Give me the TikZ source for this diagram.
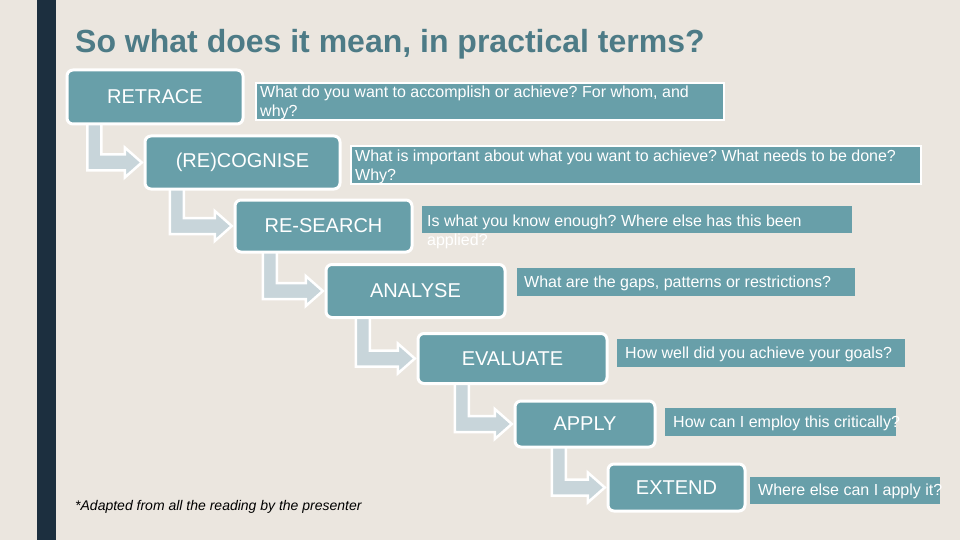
\documentclass[tikz,border=0pt]{standalone}
\usepackage{fontspec}
\setmainfont{Liberation Sans}
\usetikzlibrary{calc}
\definecolor{bgc}{HTML}{EBE6DF}
\definecolor{barc}{HTML}{1C2F3F}
\definecolor{teal}{HTML}{689FA9}
\definecolor{titlec}{HTML}{4D7B86}
\definecolor{arrowc}{HTML}{C8D5DA}
\frenchspacing
\tikzset{
  stepbox/.style={rectangle, rounded corners=6pt, fill=teal, draw=white, line width=3pt,
    text=white, font=\fontsize{20}{23}\selectfont, inner sep=0pt},
  posbox/.style={rectangle, inner sep=0pt},
  qbox/.style={rectangle, fill=teal, inner sep=0pt, anchor=north west},
  qborder/.style={qbox, draw=white, line width=2pt},
  qtext/.style={text=white, font=\fontsize{16}{19}\selectfont, inner sep=0pt, align=left, anchor=north west},
  bent/.style={fill=arrowc, draw=white, line width=2.5pt, line join=miter},
}
\newcommand\bentarrow[3]{%
  \draw[bent] let \p1=(#1.south west), \p2=(#2.west) in
   (\x1+#3-7pt,\y1+2pt) -- (\x1+#3-7pt,\y2-8pt) -- (\x2-20pt,\y2-8pt) -- (\x2-20pt,\y2-15pt)
   -- (\x2-3pt,\y2) -- (\x2-20pt,\y2+15pt) -- (\x2-20pt,\y2+8pt) -- (\x1+#3+7pt,\y2+8pt)
   -- (\x1+#3+7pt,\y1+2pt) -- cycle;}
\begin{document}
\begin{tikzpicture}[x=1pt,y=-1pt]
\fill[bgc] (0,0) rectangle (960,540);
\useasboundingbox (0,0) rectangle (960,540);
\fill[barc] (37,0) rectangle (56,540);
\node[anchor=base west, inner sep=0pt, text=titlec, font=\fontsize{32}{36}\selectfont\bfseries] (title) at (75,53) {So what does it mean, in practical terms?};

% positions of the step boxes
\path (155,97) node[posbox, minimum width=176pt, minimum height=54pt] (b1) {}
      (242.5,162.5) node[posbox, minimum width=195pt, minimum height=53pt] (b2) {}
      (323.5,226) node[posbox, minimum width=177pt, minimum height=52pt] (b3) {}
      (415.5,291) node[posbox, minimum width=179pt, minimum height=53pt] (b4) {}
      (512.5,358.5) node[posbox, minimum width=189pt, minimum height=50pt] (b5) {}
      (585,424) node[posbox, minimum width=140pt, minimum height=46pt] (b6) {}
      (676.5,487.5) node[posbox, minimum width=137pt, minimum height=47pt] (b7) {};

% bent arrows
\bentarrow{b1}{b2}{27.5}
\bentarrow{b2}{b3}{32}
\bentarrow{b3}{b4}{35}
\bentarrow{b4}{b5}{37}
\bentarrow{b5}{b6}{44}
\bentarrow{b6}{b7}{44}

% boxes drawn on top
\node[stepbox, minimum width=176pt, minimum height=54pt] (s1) at (b1) {RETRACE};
\node[stepbox, minimum width=195pt, minimum height=53pt] (s2) at (b2) {(RE)COGNISE};
\node[stepbox, minimum width=177pt, minimum height=52pt] (s3) at (b3) {RE-SEARCH};
\node[stepbox, minimum width=179pt, minimum height=53pt] (s4) at (b4) {ANALYSE};
\node[stepbox, minimum width=189pt, minimum height=50pt] (s5) at (b5) {EVALUATE};
\node[stepbox, minimum width=140pt, minimum height=46pt] (s6) at (b6) {APPLY};
\node[stepbox, minimum width=137pt, minimum height=47pt] (s7) at (b7) {EXTEND};

% question boxes
\node[qborder, minimum width=468pt, minimum height=37pt] (q1) at (255,82) {};
\node[qtext] (t1) at (260,86) {What do you want to accomplish or achieve? For whom, and\\why?};
\node[qborder, minimum width=570pt, minimum height=38pt] (q2) at (350,145) {};
\node[qtext] (t2) at (355,150) {What is important about what you want to achieve? What needs to be done?\\Why?};
\node[qbox, minimum width=430pt, minimum height=27pt] (q3) at (422,206) {};
\node[qtext] (t3) at (427,215) {Is what you know enough? Where else has this been\\applied?};
\node[qbox, minimum width=338pt, minimum height=28pt] (q4) at (517,268) {};
\node[qtext, anchor=base west] (t4) at (524,287) {What are the gaps, patterns or restrictions?};
\node[qbox, minimum width=288pt, minimum height=28pt] (q5) at (617,339) {};
\node[qtext, anchor=base west] (t5) at (625,358) {How well did you achieve your goals?};
\node[qbox, minimum width=231pt, minimum height=28pt] (q6) at (665,408) {};
\node[qtext, anchor=base west] (t6) at (673,427) {How can I employ this critically?};
\node[qbox, minimum width=190pt, minimum height=27pt] (q7) at (750,477) {};
\node[qtext, anchor=base west] (t7) at (758,495) {Where else can I apply it?};

\node[anchor=base west, inner sep=0pt, font=\fontsize{14}{16}\selectfont\itshape] (foot) at (75,510) {*Adapted from all the reading by the presenter};
\end{tikzpicture}
\end{document}
